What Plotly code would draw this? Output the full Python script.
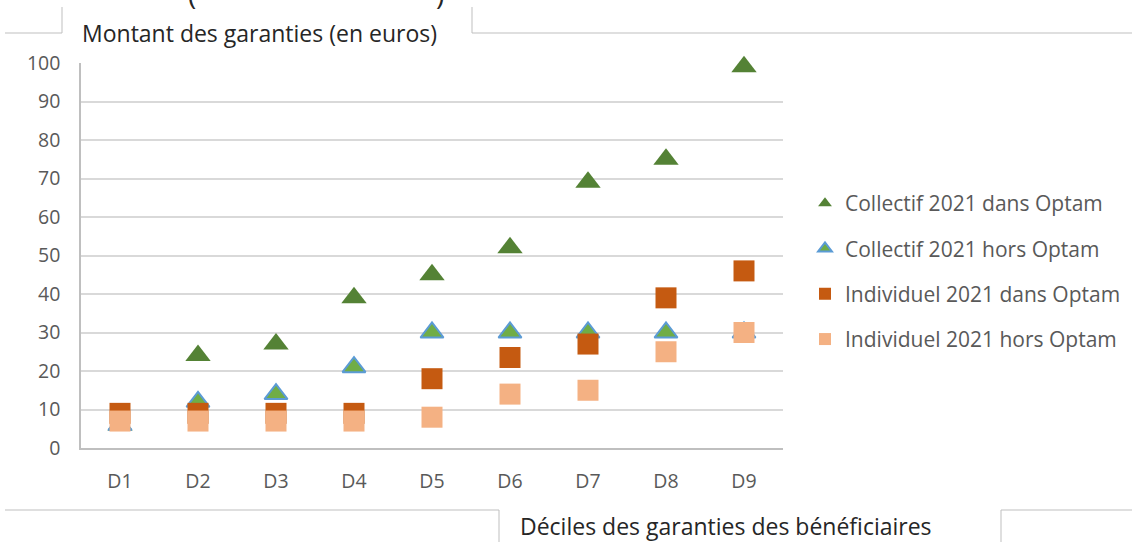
import plotly.graph_objects as go

deciles = ["D1", "D2", "D3", "D4", "D5", "D6", "D7", "D8", "D9"]

coll_dans = [6, 24, 27, 39, 45, 52, 69, 75, 99]
coll_hors = [6, 12, 14, 21, 30, 30, 30, 30, 30]
indiv_dans = [9, 9, 9, 9, 18, 23.5, 27, 39, 46]
indiv_hors = [7, 7, 7, 7, 8, 14, 15, 25, 30]

y_ticks = list(range(0, 101, 10))

FONT = "Open Sans"
GREY_TXT = "#595959"

# plot area in pixels (from the reference)
L, R, T, B = 81, 783, 63, 448
W, H = 1132, 542


def px(x):
    return (x - L) / (R - L)


def py(y):
    return (B - y) / (B - T)


fig = go.Figure()

fig.add_trace(go.Scatter(
    x=deciles, y=coll_dans, mode="markers", name="Collectif 2021 dans Optam",
    legendgroup="a", cliponaxis=False,
    marker=dict(symbol="triangle-up", size=22, color="#548235",
                line=dict(width=0))))
fig.add_trace(go.Scatter(
    x=deciles, y=coll_hors, mode="markers", name="Collectif 2021 hors Optam",
    legendgroup="b", cliponaxis=False,
    marker=dict(symbol="triangle-up", size=20, color="#70AD47",
                line=dict(width=2, color="#5B9BD5"))))
fig.add_trace(go.Scatter(
    x=deciles, y=indiv_dans, mode="markers", name="Individuel 2021 dans Optam",
    legendgroup="c", cliponaxis=False,
    marker=dict(symbol="square", size=21, color="#C55A11",
                line=dict(width=0))))
fig.add_trace(go.Scatter(
    x=deciles, y=indiv_hors, mode="markers", name="Individuel 2021 hors Optam",
    legendgroup="d", cliponaxis=False,
    marker=dict(symbol="square", size=21, color="#F4B183",
                line=dict(width=0))))

# frame lines left over from the original text boxes
frame = [
    (5, 33, 62, 33), (62, 7, 62, 33),
    (472, 7, 472, 33), (472, 33, 1132, 33),
    (5, 510, 499, 510), (499, 510, 499, 542),
    (1001, 510, 1001, 542), (1001, 510, 1132, 510),
]
shapes = []
for x0, y0, x1, y1 in frame:
    shapes.append(dict(type="line", xref="paper", yref="paper",
                       x0=px(x0), y0=py(y0), x1=px(x1), y1=py(y1),
                       line=dict(color="#BFBFBF", width=1)))

annotations = [
    dict(text="Montant des garanties (en euros)", xref="paper", yref="paper",
         x=px(80), y=py(33), xanchor="left", yanchor="middle", showarrow=False,
         font=dict(family=FONT, size=23, color="#262626")),
    dict(text="Déciles des garanties des bénéficiaires", xref="paper", yref="paper",
         x=px(726), y=py(526), xanchor="center", yanchor="middle", showarrow=False,
         font=dict(family=FONT, size=23, color="#262626")),
    dict(text="(", xref="paper", yref="paper", x=px(192), y=py(-6),
         xanchor="center", yanchor="middle", showarrow=False,
         font=dict(family=FONT, size=28, color="#262626")),
    dict(text=")", xref="paper", yref="paper", x=px(440), y=py(-6),
         xanchor="center", yanchor="middle", showarrow=False,
         font=dict(family=FONT, size=28, color="#262626")),
]

fig.update_layout(
    width=W, height=H,
    margin=dict(l=L, r=W - R, t=T, b=H - B, pad=0, autoexpand=False),
    paper_bgcolor="white", plot_bgcolor="white",
    font=dict(family=FONT, color=GREY_TXT),
    showlegend=True,
    legend=dict(x=px(805), y=py(183), xanchor="left", yanchor="top",
                font=dict(family=FONT, size=21, color=GREY_TXT),
                tracegroupgap=15, itemsizing="constant",
                bgcolor="rgba(0,0,0,0)"),
    shapes=shapes,
    annotations=annotations,
)

fig.update_xaxes(
    type="category", range=[-0.5, len(deciles) - 0.5],
    showgrid=False, showline=True, linecolor="#BFBFBF",
    linewidth=1.5, ticks="", ticklabelstandoff=15,
    tickfont=dict(family=FONT, size=19.5, color=GREY_TXT), zeroline=False)
fig.update_yaxes(
    range=[0, 100], tickvals=y_ticks, showgrid=True, gridcolor="#D9D9D9",
    gridwidth=1.5, showline=True, linecolor="#BFBFBF", linewidth=1.5,
    ticks="", ticklabelstandoff=15, zeroline=False,
    tickfont=dict(family=FONT, size=19.5, color=GREY_TXT))

# page body has an 8px default margin; drop it so the figure fills the window
fig.write_html("out.html", config={"displayModeBar": False},
               post_script="document.body.style.margin='0';")
